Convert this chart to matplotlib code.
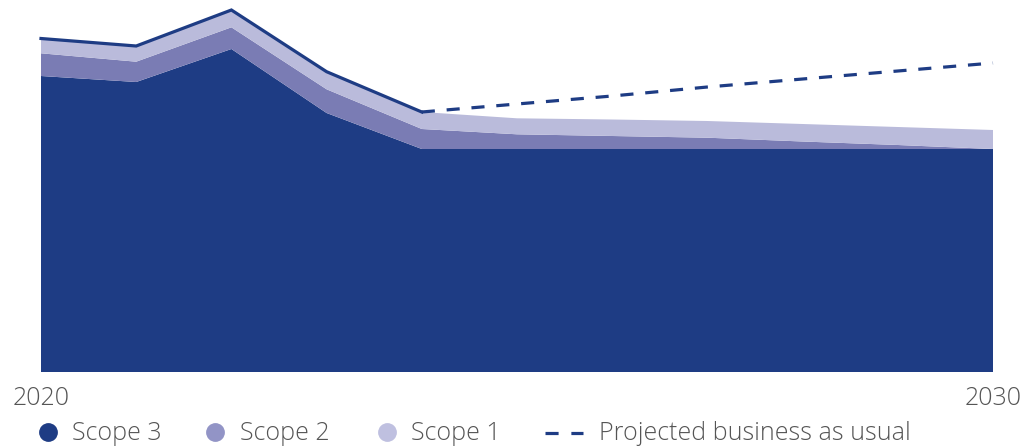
import matplotlib.pyplot as plt
import numpy as np
from matplotlib.lines import Line2D

# Datos (unidades arbitrarias)
years = [2020, 2021, 2022, 2023, 2024, 2025, 2026, 2027, 2028, 2029, 2030]
scope3 = [296, 290, 323, 259, 223, 223, 223, 223, 223, 223, 223]
scope2 = [22.7, 20.3, 21.7, 23.7, 20, 14.7, 13, 11.3, 7.5, 4, 0]
scope1 = [14.8, 15.7, 17.3, 17.6, 17, 16, 16.5, 16.7, 17.5, 18, 19]

bau_years = [2024, 2025, 2026, 2027, 2028, 2029, 2030]
bau = [260, 268, 276, 285, 293, 301, 309]

tick_years = [2020, 2030]
legend_labels = ["Scope 3", "Scope 2", "Scope 1", "Projected business as usual"]

c_s3 = "#1e3c84"
c_s2 = "#7a7cb4"
c_s1 = "#babbdb"
c_s2_leg = "#9294c6"
c_s1_leg = "#bfc0e0"
txt = "#555555"

plt.rcParams['font.family'] = ['Open Sans', 'DejaVu Sans']

fig = plt.figure(figsize=(10.26, 4.47), dpi=100)
ax = fig.add_axes([41/1026, 75/447, 952/1026, 372/447])

ax.stackplot(years, scope3, scope2, scope1, colors=[c_s3, c_s2, c_s1], linewidth=0)

total = np.array(scope3) + np.array(scope2) + np.array(scope1)
hist = [y <= 2024 for y in years]
ax.plot(np.array(years)[hist], total[hist], color=c_s3, lw=2.3, clip_on=False,
        solid_joinstyle='miter')
ax.plot(bau_years, bau, color=c_s3, lw=2.3, linestyle=(0, (4.1, 3.7)), clip_on=False)

ax.set_xlim(2020, 2030)
ax.set_ylim(0, 372)
ax.set_xticks(tick_years)
ax.set_xticklabels([str(t) for t in tick_years], fontsize=18, color=txt, fontweight='light')
ax.tick_params(axis='x', length=0, pad=10)
ax.set_yticks([])
for s in ax.spines.values():
    s.set_visible(False)

# Leyenda manual
lax = fig.add_axes([0, 0, 1, 1])
lax.set_xlim(0, 1026)
lax.set_ylim(447, 0)
lax.axis('off')
lax.patch.set_alpha(0)
ly = 432
lax.plot([48], [ly], 'o', ms=12.5, color=c_s3)
lax.plot([215], [ly], 'o', ms=12.5, color=c_s2_leg)
lax.plot([387], [ly], 'o', ms=12.5, color=c_s1_leg)
lax.plot([545, 583], [ly + 1, ly + 1], color=c_s3, lw=2.3, linestyle=(0, (4.1, 4.0)))
for xpos, lab in zip([72, 240, 411, 599], legend_labels):
    lax.text(xpos, ly + 1, lab, fontsize=18, color=txt, va='center', ha='left',
             fontweight='light')

fig.savefig("out.png", dpi=100)
